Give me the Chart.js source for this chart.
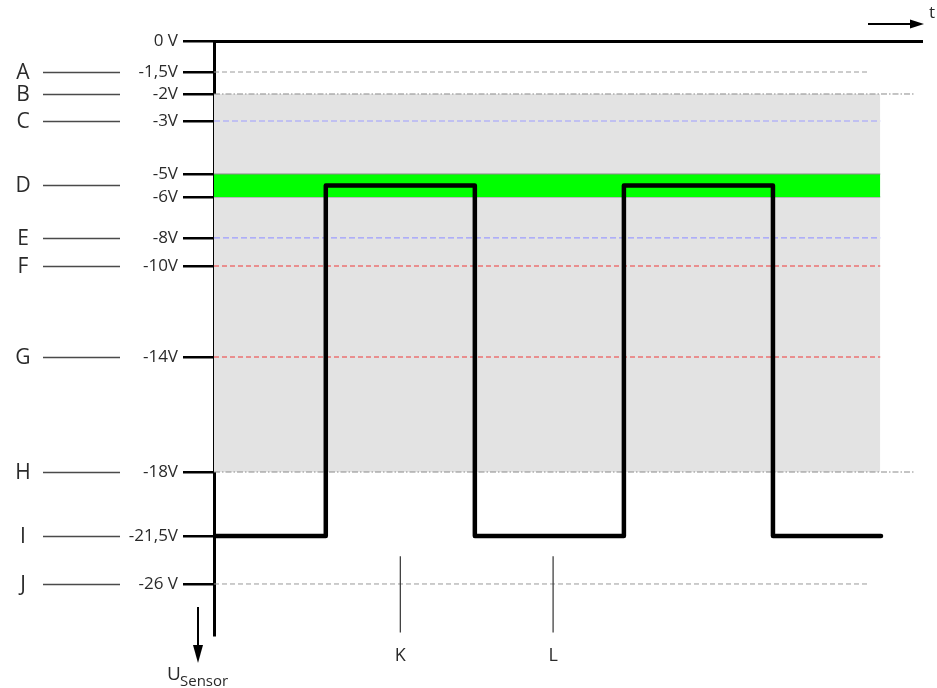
<!DOCTYPE html>
<html>
<head>
<meta charset="utf-8">
<script src="https://cdn.jsdelivr.net/npm/chart.js@4.4.1/dist/chart.umd.min.js"></script>
<style>
  html, body { margin: 0; padding: 0; background: #fff; }
  #wrap { width: 937px; height: 688px; position: relative; }
</style>
</head>
<body>
<div id="wrap"><canvas id="c" width="937" height="688"></canvas></div>
<script>
// Voltage levels marked on the sensor axis (volts) and their labels
const levelValues = [0, -1.5, -2, -3, -5, -6, -8, -10, -14, -18, -21.5, -26];
const levelLabels = ['0 V', '-1,5V', '-2V', '-3V', '-5V', '-6V', '-8V', '-10V', '-14V', '-18V', '-21,5V', '-26 V'];

// Range letters on the far left and the level each one points at
const rangeLetters = ['A', 'B', 'C', 'D', 'E', 'F', 'G', 'H', 'I', 'J'];
const rangeLevels = [-1.5, -2, -3, -5.5, -8, -10, -14, -18, -21.5, -26];

// Square-wave sensor signal: switching times and the voltage reached at each
const waveTimes = [0, 15, 35, 55, 75, 89.5];
const waveVolts = [-21.5, -5.5, -21.5, -5.5, -21.5, -21.5];

// Shaded bands (upper, lower voltage) and where they stop in time
const windowBand = [-2, -18];
const targetBand = [-5, -6];
const bandEndTime = 89.4;

// Threshold lines: level, end time and kind
const thresholdLevels = [-1.5, -2, -3, -8, -10, -14, -18, -26];
const thresholdEnds = [88, 94, 89.4, 89.4, 89.4, 89.4, 94, 88];
const thresholdKinds = ['limit', 'window', 'target', 'target', 'warn', 'warn', 'window', 'limit'];

// Time markers below the signal
const markerTimes = [25, 45.5];
const markerLabels = ['K', 'L'];
const markerSpan = [-23.4, -27.9];

const lineStyles = {
  limit:  { color: '#9a9a9a', dash: [5, 3], width: 1 },
  window: { color: '#8a8a8a', dash: [6, 2, 1.5, 2], width: 1 },
  target: { color: '#9d9dff', dash: [6, 3], width: 1.2 },
  warn:   { color: '#ef3b3b', dash: [5, 3], width: 1.2 }
};

// A vertical axis whose ticks sit at schematic (non-proportional) positions
class SchematicScale extends Chart.LinearScale {
  buildTicks() {
    return levelValues.map(v => ({ value: v }));
  }
  _fraction(value) {
    const vs = this.options.stopValues, fs = this.options.stopFractions;
    let i = 0;
    while (i < vs.length - 2 && value < vs[i + 1]) i++;
    const t = (value - vs[i]) / (vs[i + 1] - vs[i]);
    return fs[i] + t * (fs[i + 1] - fs[i]);
  }
  getPixelForValue(value) {
    return this.top + this._fraction(value) * (this.bottom - this.top);
  }
  getValueForPixel(pixel) {
    const vs = this.options.stopValues, fs = this.options.stopFractions;
    const f = (pixel - this.top) / (this.bottom - this.top);
    let i = 0;
    while (i < fs.length - 2 && f > fs[i + 1]) i++;
    const t = (f - fs[i]) / (fs[i + 1] - fs[i]);
    return vs[i] + t * (vs[i + 1] - vs[i]);
  }
}
SchematicScale.id = 'schematic';
SchematicScale.defaults = Chart.LinearScale.defaults;
Chart.register(SchematicScale);

const hline = (level, end, style) => ({
  type: 'line',
  data: [{ x: 0, y: level }, { x: end, y: level }],
  borderColor: style.color,
  borderDash: style.dash,
  borderWidth: style.width,
  pointRadius: 0,
  fill: false,
  order: 5
});

const datasets = [];

// signal
datasets.push({
  type: 'line',
  data: waveTimes.map((t, i) => ({ x: t, y: waveVolts[i] })),
  stepped: true,
  borderColor: '#000',
  borderWidth: 4.5,
  borderJoinStyle: 'round',
  borderCapStyle: 'round',
  pointRadius: 0,
  fill: false,
  order: 0
});

// time markers
markerTimes.forEach(t => datasets.push({
  type: 'line',
  data: [{ x: t, y: markerSpan[0] }, { x: t, y: markerSpan[1] }],
  borderColor: '#333',
  borderWidth: 1.2,
  pointRadius: 0,
  fill: false,
  order: 4
}));

// thresholds
thresholdLevels.forEach((lv, i) => datasets.push(hline(lv, thresholdEnds[i], lineStyles[thresholdKinds[i]])));

// green target band
datasets.push({
  type: 'line',
  data: [{ x: 0, y: targetBand[0] }, { x: bandEndTime, y: targetBand[0] }],
  borderColor: '#8c8c8c', borderWidth: 1, pointRadius: 0,
  backgroundColor: '#00ff00', fill: '+1', order: 8
});
datasets.push({
  type: 'line',
  data: [{ x: 0, y: targetBand[1] }, { x: bandEndTime, y: targetBand[1] }],
  borderColor: '#8c8c8c', borderWidth: 1, pointRadius: 0, fill: false, order: 8
});

// gray window band
datasets.push({
  type: 'line',
  data: [{ x: 0, y: windowBand[0] }, { x: bandEndTime, y: windowBand[0] }],
  borderWidth: 0, pointRadius: 0,
  backgroundColor: '#e3e3e3', fill: '+1', order: 10
});
datasets.push({
  type: 'line',
  data: [{ x: 0, y: windowBand[1] }, { x: bandEndTime, y: windowBand[1] }],
  borderWidth: 0, pointRadius: 0, fill: false, order: 10
});

const TEXT = '#2a2a2a';
const FONT = '"Open Sans", "DejaVu Sans", sans-serif';

const annotate = {
  id: 'annotate',
  afterDraw(chart) {
    const { ctx, scales: { x, y }, chartArea } = chart;
    ctx.save();

    // range letters with leader lines
    ctx.fillStyle = TEXT;
    ctx.font = '21px ' + FONT;
    ctx.textAlign = 'center';
    ctx.textBaseline = 'middle';
    rangeLetters.forEach((letter, i) => {
      const py = Math.round(y.getPixelForValue(rangeLevels[i]));
      ctx.fillText(letter, 23, py + 1);
      ctx.beginPath();
      ctx.moveTo(43, py + 0.5);
      ctx.lineTo(120, py + 0.5);
      ctx.strokeStyle = '#4a4a4a';
      ctx.lineWidth = 1.3;
      ctx.stroke();
    });

    // marker labels
    ctx.font = '18px ' + FONT;
    markerTimes.forEach((t, i) => {
      ctx.fillText(markerLabels[i], x.getPixelForValue(t), chartArea.bottom + 21);
    });

    // time direction arrow
    const ay = chartArea.top - 17;
    ctx.strokeStyle = '#000';
    ctx.fillStyle = '#000';
    ctx.lineWidth = 2;
    ctx.beginPath();
    ctx.moveTo(868, ay);
    ctx.lineTo(912, ay);
    ctx.stroke();
    ctx.beginPath();
    ctx.moveTo(910, ay - 4.5);
    ctx.lineTo(924, ay);
    ctx.lineTo(910, ay + 4.5);
    ctx.closePath();
    ctx.fill();
    ctx.fillStyle = TEXT;
    ctx.font = '17px ' + FONT;
    ctx.fillText('t', 932, 13);

    // voltage direction arrow
    ctx.fillStyle = '#000';
    ctx.beginPath();
    ctx.moveTo(198, 607);
    ctx.lineTo(198, 648);
    ctx.stroke();
    ctx.beginPath();
    ctx.moveTo(193, 645);
    ctx.lineTo(198, 663);
    ctx.lineTo(203, 645);
    ctx.closePath();
    ctx.fill();

    ctx.fillStyle = TEXT;
    ctx.textAlign = 'left';
    ctx.textBaseline = 'alphabetic';
    ctx.font = '19px ' + FONT;
    ctx.fillText('U', 167, 680);
    ctx.font = '15px ' + FONT;
    ctx.fillText('Sensor', 180, 686);

    ctx.restore();
  }
};

new Chart(document.getElementById('c'), {
  type: 'line',
  data: { datasets },
  options: {
    responsive: false,
    animation: false,
    events: [],
    layout: { padding: { left: 0, top: 0, right: 15, bottom: 53 } },
    plugins: { legend: { display: false }, tooltip: { enabled: false } },
    scales: {
      x: {
        type: 'linear',
        position: 'top',
        min: 0,
        max: 95,
        ticks: { display: false },
        grid: { display: false },
        border: { display: true, color: '#000', width: 3 },
        afterFit(s) { s.height = 41; }
      },
      y: {
        type: 'schematic',
        position: 'left',
        min: -28,
        max: 0,
        stopValues: [0, -1.5, -2, -3, -5, -6, -8, -10, -14, -18, -21.5, -26, -28],
        stopFractions: [0, 0.0522, 0.0892, 0.1347, 0.2239, 0.2626, 0.3316, 0.3788, 0.532, 0.7256, 0.8333, 0.9141, 1],
        ticks: {
          autoSkip: false,
          padding: 5,
          color: TEXT,
          font: { family: FONT, size: 17 },
          callback: (v, i) => levelLabels[i]
        },
        grid: {
          display: true,
          drawOnChartArea: false,
          drawTicks: true,
          tickLength: 31,
          color: '#000',
          lineWidth: 2.5
        },
        border: { display: true, color: '#000', width: 3 },
        afterFit(s) { s.width = 214; }
      }
    }
  },
  plugins: [annotate]
});
</script>
</body>
</html>
